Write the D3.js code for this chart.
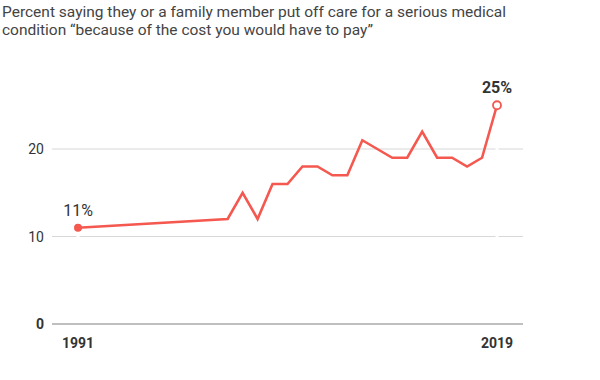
<!DOCTYPE html>
<html>
<head>
<meta charset="utf-8">
<script src="https://cdn.jsdelivr.net/npm/d3@7"></script>
<style>
  body { margin: 0; background: #fff; }
  svg { display: block; font-family: Roboto, "Open Sans", sans-serif; }
</style>
</head>
<body>
<svg id="chart" width="600" height="380"></svg>
<script>
const titleLines = [
  "Percent saying they or a family member put off care for a serious medical",
  "condition \u201cbecause of the cost you would have to pay\u201d"
];
const years = [1991, 2001, 2002, 2003, 2004, 2005, 2006, 2007, 2008, 2009, 2010,
               2011, 2012, 2013, 2014, 2015, 2016, 2017, 2018, 2019];
const values = [11, 12, 15, 12, 16, 16, 18, 18, 17, 17, 21,
                20, 19, 19, 22, 19, 19, 18, 19, 25];
const yTicks = [0, 10, 20];
const xTickLabels = [1991, 2019];

const svg = d3.select("#chart");
const lineColor = "#f4584f";

svg.selectAll("text.title").data(titleLines).join("text")
  .attr("class", "title")
  .attr("x", 2).attr("y", (d, i) => 17 + i * 18)
  .attr("font-size", 15.5).attr("fill", "#444")
  .text(d => d);

const x = d3.scaleLinear().domain([1991, 2019]).range([78, 497]);
const y = d3.scaleLinear().domain([0, 20]).range([324, 149]);
const gridX0 = 52, gridX1 = 523;

// gridlines
svg.append("g").selectAll("line").data(yTicks).join("line")
  .attr("x1", gridX0).attr("x2", gridX1)
  .attr("y1", d => y(d)).attr("y2", d => y(d))
  .attr("stroke", d => d === 0 ? "#aaa" : "#d8d8d8")
  .attr("stroke-width", d => d === 0 ? 1.5 : 1.2);

// y labels
svg.append("g").selectAll("text").data(yTicks).join("text")
  .attr("x", 44).attr("y", d => y(d) + 5)
  .attr("text-anchor", "end")
  .attr("font-size", 14)
  .attr("font-weight", d => d === 0 ? "bold" : "normal")
  .attr("fill", "#333")
  .text(d => d);

// x labels
svg.append("g").selectAll("text").data(xTickLabels).join("text")
  .attr("x", d => x(d)).attr("y", 348)
  .attr("text-anchor", "middle")
  .attr("font-size", 14).attr("font-weight", "bold").attr("fill", "#333")
  .text(d => d);

const data = years.map((yr, i) => ({ year: yr, value: values[i] }));
const first = data[0], last = data[data.length - 1];

// white breaks in gridlines below annotated points
svg.append("g").selectAll("line").data([first, last]).join("line")
  .attr("x1", d => x(d.year)).attr("x2", d => x(d.year))
  .attr("y1", d => y(d.value) + 5).attr("y2", y(0) - 2)
  .attr("stroke", "#fff").attr("stroke-width", 3);

svg.append("path").datum(data)
  .attr("fill", "none").attr("stroke", lineColor)
  .attr("stroke-width", 2.6).attr("stroke-linejoin", "miter")
  .attr("d", d3.line().x(d => x(d.year)).y(d => y(d.value)));

svg.append("circle")
  .attr("cx", x(first.year)).attr("cy", y(first.value)).attr("r", 4)
  .attr("fill", lineColor);
svg.append("circle")
  .attr("cx", x(last.year)).attr("cy", y(last.value)).attr("r", 4)
  .attr("fill", "#fff").attr("stroke", lineColor).attr("stroke-width", 1.8);

svg.append("text")
  .attr("x", x(first.year)).attr("y", y(first.value) - 12)
  .attr("text-anchor", "middle").attr("font-size", 16).attr("fill", "#333")
  .text(first.value + "%");
svg.append("text")
  .attr("x", x(last.year)).attr("y", y(last.value) - 12)
  .attr("text-anchor", "middle").attr("font-size", 16)
  .attr("font-weight", "bold").attr("fill", "#333")
  .text(last.value + "%");
</script>
</body>
</html>
